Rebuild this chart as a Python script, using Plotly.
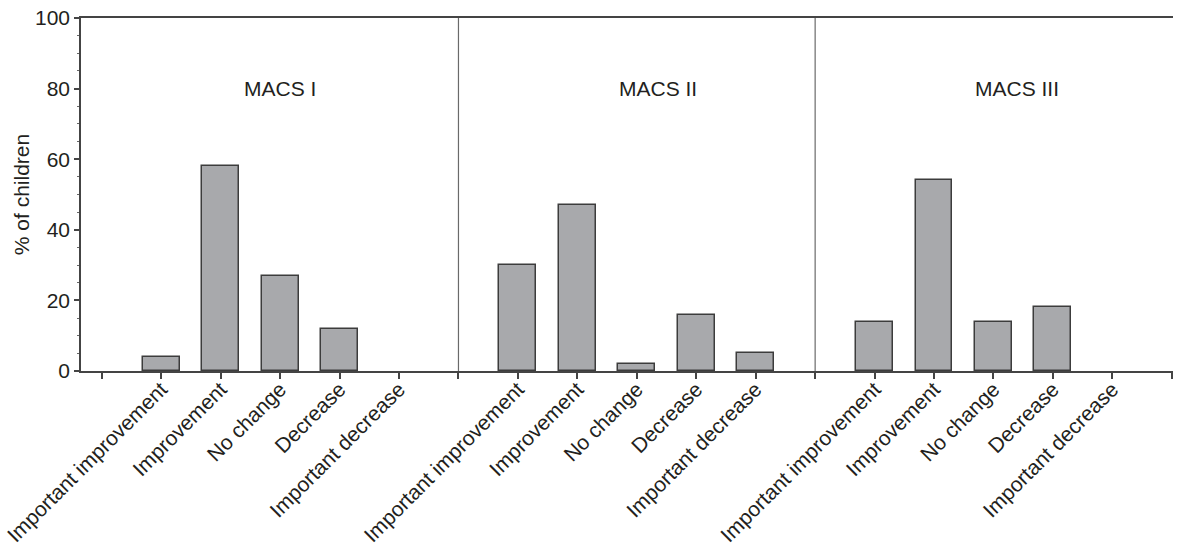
import plotly.graph_objects as go

categories = ["Important improvement", "Improvement", "No change", "Decrease", "Important decrease"]
panels = ["MACS I", "MACS II", "MACS III"]
macs1 = [4, 58, 27, 12, 0]
macs2 = [30, 47, 2, 16, 5]
macs3 = [14, 54, 14, 18, 0]
series = [macs1, macs2, macs3]
label_x = [3.0, 9.35, 15.4]   # panel label positions on the numeric category axis
label_y = 80

FONT = "Liberation Sans, Arial, sans-serif"
TXT = "#231f20"
FS = 21
SLOT = 6  # positions per panel (5 categories + separator)

fig = go.Figure()
tickvals, ticktext = [], []
for p, vals in enumerate(series):
    xs = [p * SLOT + k + 1 for k in range(len(categories))]
    fig.add_trace(go.Bar(
        x=xs, y=vals, width=0.62,
        marker=dict(color="#a8a9ac",
                    line=dict(color="#3c3c3c", width=[1.5 if v > 0 else 0 for v in vals])),
        showlegend=False, hoverinfo="x+y",
    ))
    tickvals.append(p * SLOT)
    ticktext.append("")
    tickvals += xs
    ticktext += categories
tickvals.append(len(panels) * SLOT)
ticktext.append("")

for p in range(1, len(panels)):
    fig.add_shape(type="line", x0=p * SLOT, x1=p * SLOT, y0=0, y1=100,
                  xref="x", yref="y", line=dict(color="#6a6a6a", width=1.2))

for name, lx in zip(panels, label_x):
    fig.add_annotation(x=lx, y=label_y, text=name, showarrow=False,
                       font=dict(family=FONT, size=FS, color=TXT))

fig.update_layout(
    width=1188, height=547,
    margin=dict(l=81, r=15, t=18, b=176),
    paper_bgcolor="white", plot_bgcolor="white",
    font=dict(family=FONT, size=FS, color=TXT),
    bargap=0,
)
fig.update_xaxes(
    range=[-0.35, 18.02], tickmode="array", tickvals=tickvals, ticktext=ticktext,
    tickangle=-45, ticks="outside", ticklen=6, tickcolor="#444", tickwidth=1.5,
    showline=True, linecolor="#444", linewidth=1.5, mirror=True, automargin=False,
    ticklabeloverflow="allow", ticklabelstandoff=-10,
    showgrid=False, zeroline=False, tickfont=dict(size=FS, family=FONT, color=TXT),
)
fig.update_yaxes(
    range=[0, 100], tickmode="linear", tick0=0, dtick=20,
    ticks="outside", ticklen=5, tickcolor="#444", tickwidth=1.5,
    minor=dict(dtick=5, ticks="outside", ticklen=2.5, tickcolor="#666", tickwidth=1),
    showline=True, linecolor="#444", linewidth=1.5, automargin=False,
    ticklabeloverflow="allow",
    showgrid=False, zeroline=False,
    title=dict(text="% of children", font=dict(size=FS, family=FONT, color=TXT), standoff=0),
    tickfont=dict(size=FS, family=FONT, color=TXT),
)

# remove the browser's default 8px page margin so the figure fills the window
fig.write_html("out.html", config={"displayModeBar": False},
               post_script="document.body.style.margin='0';document.body.style.overflow='hidden';")
